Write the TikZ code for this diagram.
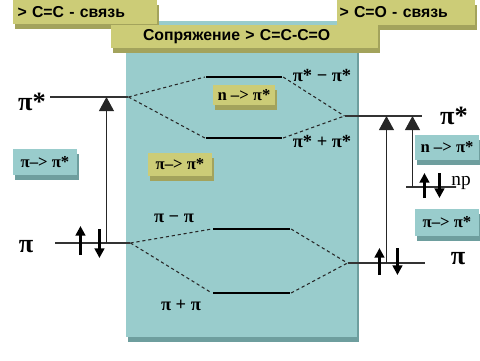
\documentclass[tikz,border=0pt]{standalone}
\usepackage{fontspec}
\setmainfont{Liberation Serif}
\newfontfamily\hdrfont{Liberation Sans}
\usetikzlibrary{arrows.meta,shadows}

\definecolor{boxyellow}{HTML}{CCCC77}
\definecolor{yshade}{HTML}{A3A35C}
\definecolor{boxteal}{HTML}{99CCCC}
\definecolor{tshade}{HTML}{6E9E9E}

\begin{document}
\begin{tikzpicture}[
    x=0.02cm, y=-0.02cm,
    >={Triangle[width=8.5pt, length=8pt]},
    box/.style={rectangle, inner sep=0pt, text centered},
    ybox/.style={box, fill=boxyellow, drop shadow={shadow xshift=1pt, shadow yshift=-2.6pt, fill=yshade, opacity=1}},
    tbox/.style={box, fill=boxteal, drop shadow={shadow xshift=1pt, shadow yshift=-2.6pt, fill=tshade, opacity=1}},
    hdr/.style={ybox, align=left, font=\hdrfont\bfseries\fontsize{9}{11}\selectfont},
    tag/.style={font=\bfseries\fontsize{9.5}{11}\selectfont, minimum width=1.28cm},
    lvl/.style={draw=black!80, line width=0.6pt, inner sep=0pt, minimum height=0pt},
    orb/.style={draw=black, line width=1.3pt, inner sep=0pt, minimum height=0pt},
    corr/.style={draw=black!85, line width=0.6pt, dash pattern=on 1.8pt off 1.6pt},
    trans/.style={draw=black!85, line width=0.6pt, ->},
    spin/.style={draw=black, line width=1.8pt, -{Triangle[width=5.5pt, length=5.5pt]}},
    big/.style={font=\bfseries\fontsize{15}{17}\selectfont, inner sep=0pt},
    mid/.style={font=\bfseries\fontsize{10.5}{12}\selectfont, inner sep=0pt}
]
    \useasboundingbox (0,0) rectangle (480,360);

    % 1. Backgrounds and headers
    \node[tbox, minimum width=4.62cm, minimum height=6.32cm] (conjbg) at (241.5,179) {};
    \node[hdr, text width=2.7cm, inner xsep=0.09cm, minimum height=0.48cm] (cc) at (85,12) {> C=C - связь};
    \node[hdr, text width=2.66cm, inner xsep=0.05cm, minimum height=0.5cm] (co) at (406,12.5) {> C=O - связь};
    \node[hdr, text width=4.06cm, inner xsep=0.64cm, minimum height=0.46cm] (cco) at (244.5,36.5) {Сопряжение > C=C-C=O};

    % 2. Transition tags
    \node[ybox, tag, minimum width=1.24cm, minimum height=0.4cm] (tagn) at (244,95) {n –> π*};
    \node[ybox, tag, minimum height=0.46cm] (tagpp) at (180,164.5) {π–> π*};
    \node[tbox, tag, minimum height=0.52cm] (lpp) at (45,162) {π–> π*};
    \node[tbox, tag, minimum height=0.5cm] (rn) at (447,147.5) {n –> π*};
    \node[tbox, tag, minimum height=0.54cm] (rpp) at (447,222.5) {π–> π*};

    % 3. Energy levels
    \node[lvl, minimum width=1.56cm] (lps) at (89,97) {};
    \node[lvl, minimum width=1.5cm] (lpi) at (92.5,243) {};
    \node[orb, minimum width=1.52cm] (ups) at (244,77) {};
    \node[orb, minimum width=1.52cm] (lws) at (244,138) {};
    \node[orb, minimum width=1.54cm] (upi) at (251.5,229) {};
    \node[orb, minimum width=1.54cm] (lwpi) at (251.5,293) {};
    \node[lvl, minimum width=1.54cm] (rps) at (383.5,116) {};
    \node[lvl, minimum width=1.54cm] (rpi) at (386.5,263) {};
    \node[lvl, minimum width=1cm] (np) at (431,187) {};

    % Level labels
    \node[big] (lpsl) at (32,102) {π*};
    \node[big] (lpil) at (26,247) {π};
    \node[big] (rpsl) at (454,116) {π*};
    \node[big] (rpil) at (458,259) {π};
    \node[inner sep=0pt, font=\fontsize{11}{12}\selectfont] (npl) at (461,183) {np};
    \node[mid] (upsl) at (322,75) {π* − π*};
    \node[mid] (lwsl) at (322,141) {π* + π*};
    \node[mid] (upil) at (174,218) {π − π};
    \node[mid] (lwpil) at (181,305) {π + π};

    % 4. Correlation lines
    \draw[corr] (lps.east) -- (ups.west);
    \draw[corr] (lps.east) -- (lws.west);
    \draw[corr] (ups.east) -- (rps.west);
    \draw[corr] (lws.east) -- (rps.west);
    \draw[corr] (lpi.east) -- (upi.west);
    \draw[corr] (lpi.east) -- (lwpi.west);
    \draw[corr] (upi.east) -- (rpi.west);
    \draw[corr] (lwpi.east) -- (rpi.west);

    % 5. Transitions
    \coordinate (ta) at ([xshift=1.04cm]lpi.west);
    \coordinate (tb) at ([xshift=0.78cm]rpi.west);
    \coordinate (tc) at ([xshift=0.14cm]np.west);
    \draw[trans] (ta) -- (ta |- lps);
    \draw[trans] (tb) -- (tb |- rps);
    \draw[trans] (tc) -- (tc |- rps);

    % 6. Electron pairs
    \draw[spin] ([xshift=0.52cm, yshift=-0.24cm]lpi.west) -- ++(0,-29);
    \draw[spin] ([xshift=0.9cm, yshift=0.28cm]lpi.west) -- ++(0,29);
    \draw[spin] ([xshift=0.38cm, yshift=-0.22cm]np.west) -- ++(0,-25);
    \draw[spin] ([xshift=0.68cm, yshift=0.28cm]np.west) -- ++(0,25);
    \draw[spin] ([xshift=0.64cm, yshift=-0.24cm]rpi.west) -- ++(0,-27);
    \draw[spin] ([xshift=1.0cm, yshift=0.3cm]rpi.west) -- ++(0,27);

\end{tikzpicture}
\end{document}
